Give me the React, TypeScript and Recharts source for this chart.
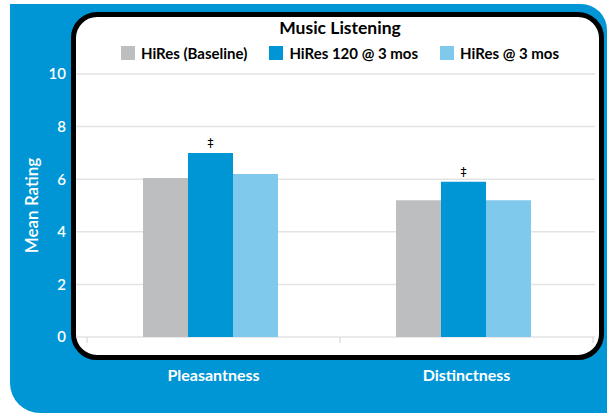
import { Bar, BarChart, CartesianGrid, LabelList, Legend, XAxis, YAxis } from "recharts";

const categories = ["Pleasantness", "Distinctness"];
const baseline = [6.05, 5.2];
const hires120 = [7.0, 5.9];
const hires3 = [6.2, 5.2];
const marks = ["‡", "‡"];
const yTicks = [0, 2, 4, 6, 8, 10];
// positions along the x axis: quarters hold names, halves hold boundary ticks
const edgeTicks = [0, 0.25, 0.5, 0.75, 1];

const seriesList = [
  { key: "baseline", name: "HiRes (Baseline)", color: "#BCBEC0" },
  { key: "hires120", name: "HiRes 120 @ 3 mos", color: "#0096D6" },
  { key: "hires3", name: "HiRes @ 3 mos", color: "#7FC9EC" }
];

const data = categories.map((name, i) => ({
  name,
  baseline: baseline[i],
  hires120: hires120[i],
  hires3: hires3[i],
  mark: marks[i]
}));

const FONT = "Lato, 'Open Sans', sans-serif";

function LegendBox() {
  return (
    <div style={{ fontFamily: FONT, textAlign: "center", color: "#000" }}>
      <div style={{ fontWeight: 700, fontSize: 17.5, lineHeight: "20px" }}>Music Listening</div>
      <div style={{ display: "flex", justifyContent: "center", gap: 22, marginTop: 7 }}>
        {seriesList.map((s) => (
          <div key={s.key} style={{ display: "flex", alignItems: "center", gap: 6 }}>
            <span style={{ width: 14, height: 14, background: s.color, display: "inline-block" }} />
            <span style={{ fontWeight: 700, fontSize: 15, lineHeight: "16px" }}>{s.name}</span>
          </div>
        ))}
      </div>
    </div>
  );
}

function EdgeTick(props: any) {
  const { x, y, payload } = props;
  const v = payload.value * 2;
  if (Number.isInteger(v)) {
    return <line x1={x} x2={x} y1={y} y2={y + 6} stroke="#e0e0e0" strokeWidth={1.5} />;
  }
  return (
    <text x={x} y={y + 44} textAnchor="middle" fill="#fff" fontFamily={FONT} fontWeight={700} fontSize={16}>
      {categories[Math.floor(v)]}
    </text>
  );
}

export default function App() {
  return (
    <div style={{ position: "absolute", left: 0, top: 0, width: 607, height: 413, background: "#fff", overflow: "hidden" }}>
      <div
        style={{
          position: "absolute",
          left: 10,
          top: 4,
          width: 597,
          height: 409,
          background: "#0096D6",
          borderRadius: "0 26px 0 30px"
        }}
      />
      <div
        style={{
          position: "absolute",
          left: 71,
          top: 12,
          width: 523,
          height: 338,
          background: "#fff",
          border: "5px solid #000",
          borderRadius: 26
        }}
      />
      <div style={{ position: "absolute", left: 0, top: 0 }}>
        <BarChart
          width={607}
          height={413}
          data={data}
          margin={{ top: 74, right: 12, bottom: 36, left: 0 }}
          barCategoryGap={59}
          barGap={0}
        >
          <CartesianGrid vertical={false} stroke="#e3e3e3" strokeWidth={1.5} />
          <XAxis dataKey="name" hide height={0} padding={{ left: 8, right: 5 }} />
          <XAxis
            xAxisId="edge"
            type="number"
            domain={[0, 1]}
            ticks={edgeTicks}
            allowDataOverflow
            height={40}
            padding={{ left: 11, right: 2 }}
            axisLine={false}
            tickLine={false}
            tickSize={0}
            tickMargin={0}
            interval={0}
            tick={<EdgeTick />}
          />
          <YAxis
            width={76}
            domain={[0, 10]}
            ticks={yTicks}
            axisLine={false}
            tickLine={false}
            tickSize={0}
            tickMargin={10}
            tick={{ fill: "#fff", fontFamily: FONT, fontSize: 15, fontWeight: 600 }}
            label={{
              content: (p: any) => {
                const vb = p.viewBox;
                const cy = vb.y + vb.height / 2;
                return (
                  <text
                    x={31}
                    y={cy}
                    transform={`rotate(-90 31 ${cy})`}
                    textAnchor="middle"
                    dominantBaseline="central"
                    fill="#fff"
                    fontFamily={FONT}
                    fontSize={17}
                    fontWeight={600}
                  >
                    Mean Rating
                  </text>
                );
              }
            }}
          />
          <Legend
            verticalAlign="middle"
            wrapperStyle={{ top: 18, left: 71, width: 538 }}
            content={() => <LegendBox />}
          />
          {seriesList.map((s) => (
            <Bar key={s.key} dataKey={s.key} name={s.name} fill={s.color} isAnimationActive={false}>
              {s.key === "hires120" ? (
                <LabelList dataKey="mark" position="top" offset={6} fill="#000" fontSize={12} fontFamily="DejaVu Sans" />
              ) : null}
            </Bar>
          ))}
        </BarChart>
      </div>
    </div>
  );
}
